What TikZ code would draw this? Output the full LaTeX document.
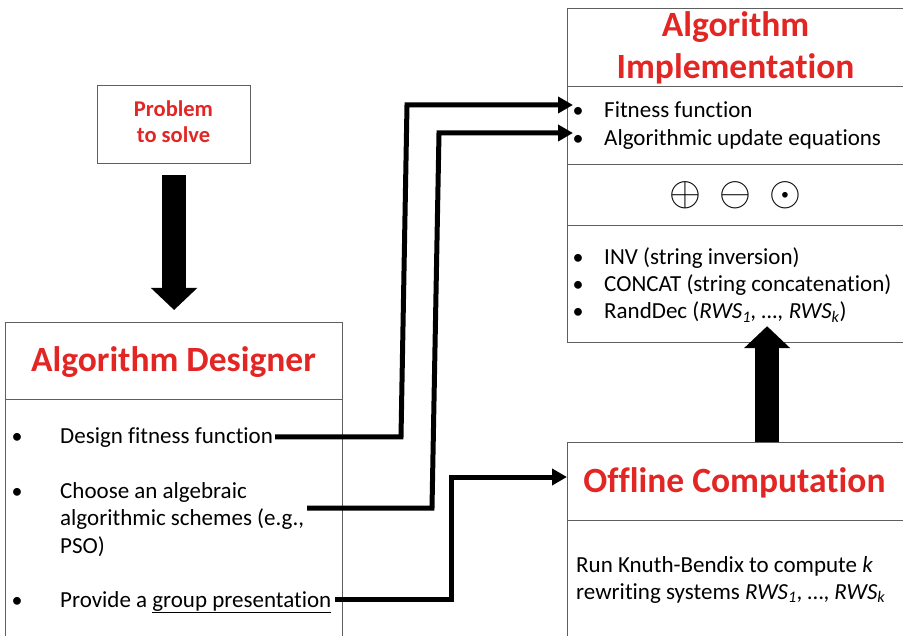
\documentclass[tikz,border=0pt]{standalone}
\usepackage{fontspec}
\setmainfont[Ligatures=NoCommon]{Carlito}
\usetikzlibrary{arrows.meta}
\definecolor{titlered}{RGB}{226,38,36}
\definecolor{framegray}{RGB}{95,95,95}
\newcommand{\bigop}[1]{\scalebox{4.1}{$#1$}}

\begin{document}
\begin{tikzpicture}[x=1pt,y=-1pt,
  panel/.style={draw=framegray, line width=1.2pt, inner sep=0pt, anchor=north west},
  title/.style={text=titlered, font=\fontsize{35.5}{40}\selectfont\bfseries, anchor=base, inner sep=0pt},
  smalltitle/.style={text=titlered, font=\fontsize{22.5}{26}\selectfont\bfseries, anchor=base, inner sep=0pt},
  body/.style={font=\fontsize{23}{27}\selectfont, anchor=base west, inner sep=0pt},
  dot/.style={font=\fontsize{22}{27}\selectfont, anchor=base, inner sep=0pt},
  opsym/.style={inner sep=0pt},
  bigarrow/.style={line width=23.5pt, -{Triangle[length=22pt,width=45pt]}},
  link/.style={line width=5pt, line join=miter, -{Triangle[length=15pt,width=16pt]}}
]
\useasboundingbox (0,0) rectangle (903,636);

% ---- Problem to solve ----
\node[panel, minimum width=153pt, minimum height=78pt] (prob) at (97,85) {};
\node[smalltitle] (probA) at (173.5,117) {Problem};
\node[smalltitle] (probB) at (173.5,143) {to solve};

% ---- Algorithm Designer ----
\node[panel, minimum width=337pt, minimum height=77pt] (des) at (5,322) {};
\node[panel, minimum width=337pt, minimum height=245pt] (desbody) at (5,399) {};
\node[title] (desT) at (173.5,372) {Algorithm Designer};

\node[dot] (d1) at (17,443) {•};
\node[body] (i1) at (60,443) {Design fitness function};
\node[dot] (d2) at (17,498) {•};
\node[body] (i2a) at (60,498) {Choose an algebraic};
\node[body] (i2b) at (60,525.5) {algorithmic schemes (e.g.,};
\node[body] (i2c) at (60,553) {PSO)};
\node[dot] (d3) at (17,607) {•};
\node[body] (i3) at (60,607) {Provide a \underline{group presentation}};

% ---- Algorithm Implementation ----
\node[panel, minimum width=338pt, minimum height=78pt] (imp) at (567,8) {};
\node[panel, minimum width=338pt, minimum height=78pt] (imp2) at (567,86) {};
\node[panel, minimum width=338pt, minimum height=61pt] (imp3) at (567,164) {};
\node[panel, minimum width=338pt, minimum height=117pt] (imp4) at (567,225) {};
\node[title] (impA) at (735.5,37) {Algorithm};
\node[title] (impB) at (735.5,79) {Implementation};

\node[dot] (e1) at (578,118) {•};
\node[body] (f1) at (604,118) {Fitness function};
\node[dot] (e2) at (578,146) {•};
\node[body] (f2) at (604,146) {Algorithmic update equations};

\node[opsym] (op1) at (685,195) {\bigop{\oplus}};
\node[opsym] (op2) at (735,195) {\bigop{\ominus}};
\node[opsym] (op3) at (785,195) {\bigop{\odot}};

\node[dot] (g1) at (578,265) {•};
\node[body] (h1) at (604,265) {INV (string inversion)};
\node[dot] (g2) at (578,292) {•};
\node[body] (h2) at (604,292) {CONCAT (string concatenation)};
\node[dot] (g3) at (578,319) {•};
\node[body] (h3) at (604,319) {RandDec (\textit{RWS\textsubscript{1}, \dots, RWS\textsubscript{k}})};

% ---- Offline Computation ----
\node[panel, minimum width=338pt, minimum height=78pt] (off) at (567,442) {};
\node[panel, minimum width=338pt, minimum height=130pt] (offbody) at (567,520) {};
\node[title] (offT) at (734.5,493) {Offline Computation};
\node[body] (k1) at (576,572) {Run Knuth-Bendix to compute \textit{k}};
\node[body] (k2) at (576,599) {rewriting systems \textit{RWS\textsubscript{1}}, \dots, \textit{RWS\textsubscript{k}}};

% ---- flow arrows ----
\draw[bigarrow, shorten <=11pt, shorten >=12pt] (prob.south) -- (des.north);
\draw[bigarrow, shorten >=-17pt] ([xshift=30.5pt]off.north) -- ([xshift=30.5pt]imp4.south);

% ---- links from designer to implementation / offline ----
\coordinate (s1) at (275,437);
\coordinate (s2) at (307,508);
\coordinate (s3) at (335,599);
\coordinate (t1) at (573,105);
\coordinate (t2) at (573,133);
\draw[link] (s1) -- (401,437) -- (407,105) -- (t1);
\draw[link] (s2) -- (432,508) -- (439,133) -- (t2);
\draw[link] (s3) -- (451,599) -- (451,477) -- (off.west |- 0,477);
\end{tikzpicture}
\end{document}
